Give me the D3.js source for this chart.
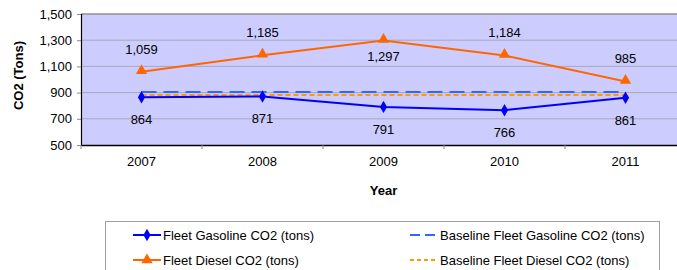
<!DOCTYPE html>
<html>
<head>
<meta charset="utf-8">
<script src="https://cdn.jsdelivr.net/npm/d3@7"></script>
<style>
  body { margin: 0; background: #fff; }
  svg { font-family: "Liberation Sans", Arial, sans-serif; }
</style>
</head>
<body>
<div id="chart"></div>
<script>
// chart values
const years = ["2007", "2008", "2009", "2010", "2011"];
const gasoline = [864, 871, 791, 766, 861];
const diesel = [1059, 1185, 1297, 1184, 985];
const baselineGasoline = [905, 905, 905, 905, 905];
const baselineDiesel = [882, 882, 882, 882, 882];
const yTicks = [500, 700, 900, 1100, 1300, 1500];
const legendLabels = ["Fleet Gasoline CO2 (tons)", "Baseline Fleet Gasoline CO2 (tons)",
                      "Fleet Diesel CO2 (tons)", "Baseline Fleet Diesel CO2 (tons)"];

const width = 677, height = 270;
const margin = {top: 14, left: 81, bottom: 145};
const plotRight = 686;

const svg = d3.select("#chart").append("svg")
  .attr("width", width)
  .attr("height", height);

const x = d3.scaleBand().domain(years).range([margin.left, plotRight]);
const y = d3.scaleLinear().domain([500, 1500]).range([margin.bottom, margin.top]);
const cx = d => x(d) + x.bandwidth() / 2;

// plot background
svg.append("rect")
  .attr("x", margin.left).attr("y", margin.top)
  .attr("width", plotRight - margin.left).attr("height", margin.bottom - margin.top)
  .attr("fill", "#ccccff");

// gridlines
svg.append("g").selectAll("line")
  .data(yTicks.slice(1))
  .enter().append("line")
  .attr("x1", margin.left).attr("x2", plotRight)
  .attr("y1", d => y(d)).attr("y2", d => y(d))
  .attr("stroke", d => d === 1500 ? "#909090" : "#a8a8b8")
  .attr("stroke-width", d => d === 1500 ? 1.5 : 1);

// y axis
const yAxis = svg.append("g")
  .attr("transform", `translate(${margin.left},0)`)
  .call(d3.axisLeft(y).tickValues(yTicks).tickFormat(d3.format(",")).tickSize(4).tickPadding(5));
yAxis.select(".domain").attr("stroke", "#000").attr("stroke-width", 1.2);
yAxis.selectAll(".tick line").attr("stroke", "#888");
yAxis.selectAll("text").attr("font-size", 13).attr("fill", "#000")
  .style("font-family", "Liberation Sans, Arial, sans-serif");

// x axis
const xAxis = svg.append("g")
  .attr("transform", `translate(0,${margin.bottom})`)
  .call(d3.axisBottom(x).tickSize(0).tickPadding(12));
xAxis.select(".domain").attr("stroke", "#000").attr("stroke-width", 1.5);
xAxis.selectAll("text").attr("font-size", 13).attr("fill", "#000")
  .style("font-family", "Liberation Sans, Arial, sans-serif");
// tick marks at band boundaries
svg.append("g").selectAll("line")
  .data(years)
  .enter().append("line")
  .attr("x1", d => x(d)).attr("x2", d => x(d))
  .attr("y1", margin.bottom).attr("y2", margin.bottom + 4)
  .attr("stroke", "#888");

// axis titles
svg.append("text")
  .attr("transform", `translate(23,${(margin.top + margin.bottom) / 2 - 4}) rotate(-90)`)
  .attr("text-anchor", "middle")
  .attr("font-size", 13).attr("font-weight", "bold")
  .text("CO2 (Tons)");
svg.append("text")
  .attr("x", cx("2009")).attr("y", 195)
  .attr("text-anchor", "middle")
  .attr("font-size", 13).attr("font-weight", "bold")
  .text("Year");

const line = d3.line().x((d, i) => cx(years[i])).y(d => y(d));

// baselines
svg.append("path").datum(baselineGasoline)
  .attr("d", line).attr("fill", "none")
  .attr("stroke", "#3366ff").attr("stroke-width", 2)
  .attr("stroke-dasharray", "15,7");
svg.append("path").datum(baselineDiesel)
  .attr("d", line).attr("fill", "none")
  .attr("stroke", "#ff9900").attr("stroke-width", 2)
  .attr("stroke-dasharray", "5,3");

// series lines
svg.append("path").datum(gasoline)
  .attr("d", line).attr("fill", "none")
  .attr("stroke", "#0000ff").attr("stroke-width", 2);
svg.append("path").datum(diesel)
  .attr("d", line).attr("fill", "none")
  .attr("stroke", "#ff6600").attr("stroke-width", 2);

// markers
const diamond = d3.symbol().type(d3.symbolDiamond).size(45);
const triangle = d3.symbol().type(d3.symbolTriangle).size(55);
svg.append("g").selectAll("path")
  .data(gasoline).enter().append("path")
  .attr("d", diamond)
  .attr("transform", (d, i) => `translate(${cx(years[i])},${y(d)})`)
  .attr("fill", "#0000ff");
svg.append("g").selectAll("path")
  .data(diesel).enter().append("path")
  .attr("d", triangle)
  .attr("transform", (d, i) => `translate(${cx(years[i])},${y(d) - 1})`)
  .attr("fill", "#ff6600");

// data labels
const fmt = d3.format(",");
svg.append("g").selectAll("text")
  .data(gasoline).enter().append("text")
  .attr("x", (d, i) => cx(years[i]))
  .attr("y", d => y(d) + 27)
  .attr("text-anchor", "middle").attr("font-size", 13)
  .text(d => fmt(d));
svg.append("g").selectAll("text")
  .data(diesel).enter().append("text")
  .attr("x", (d, i) => cx(years[i]))
  .attr("y", d => d > 1250 ? y(d) + 20 : y(d) - 18)
  .attr("text-anchor", "middle").attr("font-size", 13)
  .text(d => fmt(d));

// legend
const legend = svg.append("g");
legend.append("rect")
  .attr("x", 105.5).attr("y", 221.5)
  .attr("width", 554).attr("height", 60)
  .attr("fill", "#fff").attr("stroke", "#a0a0a0");

const legendItems = [
  {col: 0, row: 0, color: "#0000ff", dash: null, marker: diamond},
  {col: 1, row: 0, color: "#3366ff", dash: "10,5", marker: null},
  {col: 0, row: 1, color: "#ff6600", dash: null, marker: triangle},
  {col: 1, row: 1, color: "#ff9900", dash: "4,3", marker: null}
];
legendItems.forEach((it, i) => {
  const lx = it.col === 0 ? 133 : 410;
  const ly = it.row === 0 ? 235 : 260;
  legend.append("line")
    .attr("x1", lx).attr("x2", lx + 28)
    .attr("y1", ly).attr("y2", ly)
    .attr("stroke", it.color).attr("stroke-width", 2)
    .attr("stroke-dasharray", it.dash);
  if (it.marker) {
    legend.append("path").attr("d", it.marker)
      .attr("transform", `translate(${lx + 14},${ly})`)
      .attr("fill", it.color);
  }
  legend.append("text")
    .attr("x", lx + 30).attr("y", ly + 5)
    .attr("font-size", 13)
    .text(legendLabels[i]);
});
</script>
</body>
</html>
